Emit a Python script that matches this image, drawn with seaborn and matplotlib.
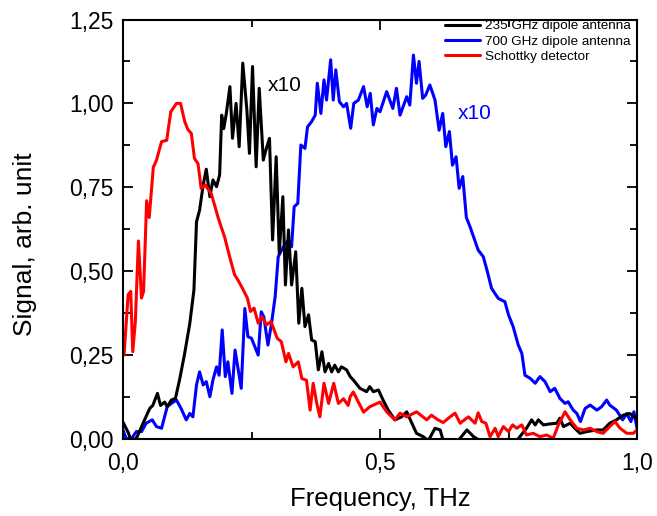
import matplotlib
matplotlib.use("Agg")
import matplotlib.pyplot as plt
import seaborn as sns
import pandas as pd
from matplotlib.ticker import MultipleLocator, FuncFormatter

# Schottky detector (red)
red_x = [0.002, 0.01, 0.015, 0.019, 0.024, 0.03, 0.036, 0.04, 0.046, 0.051, 0.059, 0.065, 0.075, 0.085,
         0.093, 0.104, 0.112, 0.12, 0.126, 0.133, 0.139, 0.146, 0.152, 0.16, 0.172, 0.185, 0.198, 0.208,
         0.217, 0.225, 0.232, 0.242, 0.248, 0.255, 0.263, 0.27, 0.279, 0.288, 0.3, 0.308, 0.317, 0.322,
         0.331, 0.341, 0.348, 0.357, 0.364, 0.37, 0.377, 0.383, 0.391, 0.4, 0.41, 0.419, 0.429, 0.438,
         0.442, 0.448, 0.468, 0.48, 0.5, 0.513, 0.529, 0.539, 0.552, 0.571, 0.591, 0.6, 0.613, 0.623,
         0.633, 0.646, 0.656, 0.66, 0.672, 0.678, 0.685, 0.691, 0.698, 0.706, 0.714, 0.724, 0.73, 0.74,
         0.75, 0.758, 0.766, 0.776, 0.785, 0.798, 0.811, 0.824, 0.837, 0.847, 0.86, 0.87, 0.883, 0.896,
         0.909, 0.922, 0.934, 0.947, 0.957, 0.967, 0.98, 0.993, 1.0]
red_y = [0.25, 0.43, 0.44, 0.26, 0.35, 0.59, 0.42, 0.44, 0.71, 0.66, 0.81, 0.83, 0.886, 0.89,
         0.975, 1.0, 1.0, 0.946, 0.923, 0.91, 0.836, 0.82, 0.747, 0.757, 0.73, 0.66, 0.60, 0.54,
         0.49, 0.47, 0.45, 0.42, 0.38, 0.39, 0.345, 0.365, 0.34, 0.35, 0.30, 0.29, 0.23, 0.255,
         0.215, 0.23, 0.18, 0.175, 0.086, 0.166, 0.106, 0.066, 0.166, 0.106, 0.166, 0.106, 0.12, 0.10,
         0.126, 0.14, 0.08, 0.096, 0.11, 0.081, 0.057, 0.077, 0.066, 0.081, 0.057, 0.071, 0.057, 0.049,
         0.062, 0.077, 0.047, 0.052, 0.066, 0.057, 0.047, 0.078, 0.052, 0.047, 0.007, 0.032, 0.007, 0.037,
         0.022, 0.042, 0.032, 0.042, 0.012, 0.017, 0.007, 0.012, 0.002, 0.042, 0.081, 0.057, 0.032, 0.027,
         0.032, 0.022, 0.017, 0.037, 0.052, 0.032, 0.017, 0.017, 0.027]

# 235 GHz dipole antenna (black), x10
blk_x = [0.0, 0.01, 0.017, 0.027, 0.039, 0.052, 0.058, 0.067, 0.073, 0.081, 0.086, 0.094, 0.102, 0.11,
         0.12, 0.13, 0.138, 0.143, 0.149, 0.156, 0.162, 0.169, 0.175, 0.182, 0.188, 0.192, 0.196, 0.201,
         0.208, 0.213, 0.22, 0.226, 0.233, 0.241, 0.246, 0.252, 0.259, 0.265, 0.273, 0.278, 0.285, 0.291,
         0.298, 0.304, 0.311, 0.316, 0.322, 0.328, 0.336, 0.342, 0.348, 0.354, 0.361, 0.367, 0.374, 0.38,
         0.387, 0.393, 0.4, 0.406, 0.412, 0.419, 0.425, 0.435, 0.442, 0.448, 0.461, 0.474, 0.48, 0.487,
         0.497, 0.506, 0.516, 0.529, 0.542, 0.552, 0.562, 0.571, 0.584, 0.594, 0.607, 0.617, 0.623, 0.64,
         0.652, 0.669, 0.682, 0.7, 0.74, 0.766, 0.785, 0.795, 0.802, 0.808, 0.818, 0.831, 0.844, 0.85,
         0.857, 0.87, 0.879, 0.889, 0.902, 0.922, 0.934, 0.947, 0.96, 0.973, 0.986, 1.0]
blk_y = [0.05, 0.02, -0.01, 0.005, 0.047, 0.091, 0.10, 0.136, 0.10, 0.11, 0.096, 0.116, 0.121, 0.176,
         0.255, 0.345, 0.444, 0.647, 0.682, 0.757, 0.804, 0.722, 0.772, 0.752, 0.787, 0.965, 0.925, 0.97,
         1.05, 0.896, 1.0, 0.871, 1.12, 0.98, 0.851, 1.11, 0.811, 1.045, 0.831, 0.861, 0.896, 0.593,
         0.841, 0.553, 0.722, 0.459, 0.623, 0.459, 0.558, 0.345, 0.449, 0.335, 0.37, 0.295, 0.29, 0.206,
         0.26, 0.20, 0.225, 0.20, 0.22, 0.20, 0.215, 0.206, 0.186, 0.176, 0.151, 0.141, 0.156, 0.141,
         0.146, 0.116, 0.086, 0.057, 0.066, 0.081, 0.047, 0.017, 0.007, -0.005, 0.032, 0.027, -0.005, -0.01,
         -0.005, 0.027, 0.007, -0.01, -0.01, -0.005, 0.032, 0.057, 0.042, 0.057, 0.042, 0.045, 0.047, 0.062,
         0.037, 0.047, 0.032, 0.017, 0.022, 0.027, 0.027, 0.047, 0.057, 0.071, 0.076, 0.06]

# 700 GHz dipole antenna (blue), x10
blu_x = [0.0, 0.006, 0.016, 0.026, 0.036, 0.045, 0.057, 0.065, 0.075, 0.086, 0.094, 0.104, 0.113, 0.123,
         0.13, 0.136, 0.143, 0.149, 0.156, 0.162, 0.169, 0.175, 0.182, 0.187, 0.193, 0.199, 0.204, 0.212,
         0.218, 0.23, 0.237, 0.243, 0.25, 0.263, 0.269, 0.274, 0.282, 0.289, 0.296, 0.302, 0.312, 0.322,
         0.328, 0.333, 0.34, 0.346, 0.354, 0.359, 0.367, 0.374, 0.378, 0.385, 0.391, 0.396, 0.404, 0.409,
         0.414, 0.421, 0.429, 0.435, 0.443, 0.449, 0.458, 0.468, 0.475, 0.481, 0.487, 0.494, 0.5, 0.513,
         0.525, 0.532, 0.539, 0.552, 0.558, 0.565, 0.571, 0.576, 0.583, 0.589, 0.597, 0.607, 0.615, 0.622,
         0.628, 0.635, 0.641, 0.648, 0.654, 0.661, 0.668, 0.675, 0.691, 0.701, 0.708, 0.717, 0.73, 0.743,
         0.75, 0.759, 0.769, 0.776, 0.782, 0.792, 0.802, 0.811, 0.821, 0.831, 0.84, 0.85, 0.86, 0.866,
         0.876, 0.883, 0.89, 0.899, 0.909, 0.922, 0.931, 0.941, 0.947, 0.96, 0.972, 0.98, 0.988, 0.994, 1.0]
blu_y = [0.027, 0.002, 0.0, 0.022, 0.022, 0.047, 0.057, 0.037, 0.032, 0.096, 0.106, 0.116, 0.091, 0.057,
         0.076, 0.066, 0.161, 0.20, 0.161, 0.171, 0.126, 0.176, 0.215, 0.19, 0.325, 0.186, 0.23, 0.136,
         0.265, 0.151, 0.389, 0.305, 0.30, 0.25, 0.379, 0.364, 0.28, 0.345, 0.424, 0.543, 0.573, 0.593,
         0.573, 0.692, 0.702, 0.876, 0.866, 0.93, 0.946, 0.965, 1.06, 0.97, 1.07, 1.01, 1.13, 1.01,
         1.1, 1.005, 0.99, 1.0, 0.926, 1.0, 1.01, 1.05, 0.99, 1.03, 0.936, 0.985, 0.975, 1.035,
         0.985, 1.045, 0.965, 1.02, 0.995, 1.144, 1.06, 1.125, 1.015, 1.025, 1.055, 1.01, 0.92, 0.97,
         0.871, 0.916, 0.816, 0.841, 0.747, 0.782, 0.66, 0.633, 0.563, 0.543, 0.504, 0.449, 0.419, 0.409,
         0.37, 0.335, 0.28, 0.255, 0.19, 0.181, 0.166, 0.186, 0.171, 0.141, 0.151, 0.121, 0.106, 0.111,
         0.086, 0.076, 0.052, 0.091, 0.101, 0.086, 0.096, 0.116, 0.101, 0.086, 0.057, 0.076, 0.052, 0.081, 0.032]

labels = ["235 GHz dipole antenna", "700 GHz dipole antenna", "Schottky detector"]
colors = ["#000000", "#0000ff", "#ff0000"]
x_ticks = [0.0, 0.5, 1.0]
y_ticks = [0.0, 0.25, 0.5, 0.75, 1.0, 1.25]

sns.set_theme(style="white")
plt.rcParams['font.family'] = ['Liberation Sans', 'DejaVu Sans']
plt.rcParams.update({"text.color": "black", "axes.labelcolor": "black",
                     "xtick.color": "black", "ytick.color": "black"})

fig = plt.figure(figsize=(6.57, 5.16), dpi=100)
ax = fig.add_axes([123/657, 77/516, 514/657, 419.5/516])

df_blu = pd.DataFrame({"x": blu_x, "y": blu_y})
df_blk = pd.DataFrame({"x": blk_x, "y": blk_y})
df_red = pd.DataFrame({"x": red_x, "y": red_y})

sns.lineplot(data=df_blu, x="x", y="y", ax=ax, color=colors[1], lw=2.2, label=labels[1], sort=False)
sns.lineplot(data=df_blk, x="x", y="y", ax=ax, color=colors[0], lw=2.2, label=labels[0], sort=False)
sns.lineplot(data=df_red, x="x", y="y", ax=ax, color=colors[2], lw=2.2, label=labels[2], sort=False)

ax.set_xlim(0, 1.0)
ax.set_ylim(0, 1.25)
ax.set_xticks(x_ticks)
ax.set_yticks(y_ticks)
ax.xaxis.set_minor_locator(MultipleLocator(0.25))
ax.yaxis.set_minor_locator(MultipleLocator(0.125))
ax.xaxis.set_major_formatter(FuncFormatter(lambda v, p: f"{v:.1f}".replace(".", ",")))
ax.yaxis.set_major_formatter(FuncFormatter(lambda v, p: f"{v:.2f}".replace(".", ",")))
ax.tick_params(which="both", direction="in", top=True, right=True, bottom=True, left=True,
               color="black", labelcolor="black", width=1.3)
ax.tick_params(which="major", length=7, labelsize=16.5)
ax.tick_params(axis="x", which="major", pad=9.5)
ax.tick_params(axis="y", which="major", pad=7)
ax.tick_params(which="minor", length=5)
for s in ax.spines.values():
    s.set_color("black")
    s.set_linewidth(1.5)

ax.set_xlabel("Frequency, THz", fontsize=18.5, color="black")
ax.set_ylabel("Signal, arb. unit", fontsize=19, color="black")
ax.xaxis.set_label_coords(0.5, -0.115)
ax.yaxis.set_label_coords(-0.167, 0.465)

ax.text(0.282, 1.052, "x10", color="black", fontsize=15, va="center", ha="left")
ax.text(0.652, 0.97, "x10", color="#0000ff", fontsize=15, va="center", ha="left")

h, l = ax.get_legend_handles_labels()
order = [l.index(t) for t in labels]
leg = ax.legend([h[i] for i in order], [l[i] for i in order], loc="upper right", frameon=False,
                fontsize=9.7, handlelength=2.6, handletextpad=0.3, labelspacing=0.22,
                borderaxespad=0.1, bbox_to_anchor=(1.0, 1.015))
for t in leg.get_texts():
    t.set_color("black")

fig.savefig("out.png", dpi=100)
